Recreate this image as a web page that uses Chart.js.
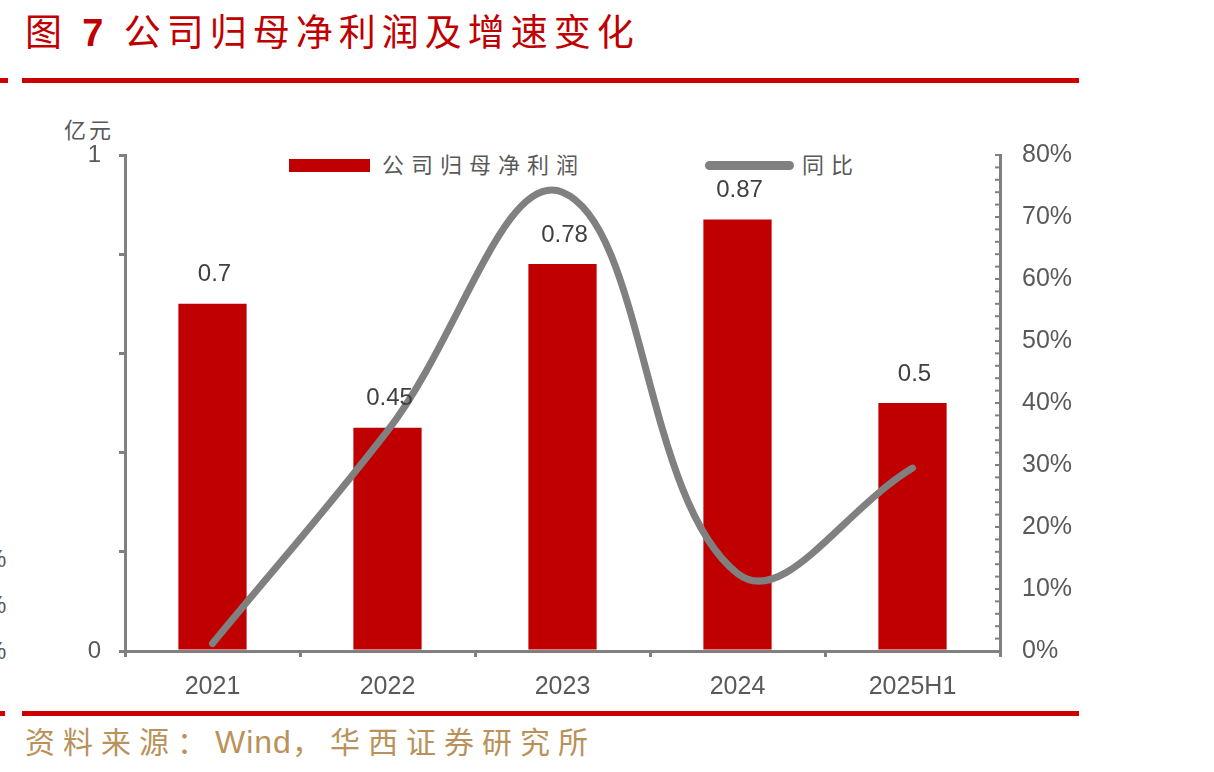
<!DOCTYPE html>
<html>
<head>
<meta charset="utf-8">
<script src="https://cdn.jsdelivr.net/npm/chart.js@4.4.1/dist/chart.umd.min.js"></script>
<style>
  body { margin: 0; background: #fff; width: 1214px; height: 772px; position: relative; overflow: hidden;
         font-family: "Liberation Sans", Arial, "Noto Sans CJK SC", sans-serif; }
  .abs { position: absolute; white-space: nowrap; }
  .title { left: 25px; top: 3px; font-size: 37px; color: #c00000; letter-spacing: 6px;
           font-family: "Noto Sans CJK SC", sans-serif; }
  .title b { font-family: "Liberation Sans", Arial, sans-serif; font-size: 38px; }
  .rule { background: #cc0000; height: 5px; }
  .src { left: 25px; top: 718px; font-size: 30px; color: #b8925a; letter-spacing: 8px;
         font-family: "Noto Sans CJK SC", sans-serif; }
  .src span { letter-spacing: 1px; font-family: "Liberation Sans", Arial, sans-serif; font-size: 32px; }
  .unit { left: 64px; top: 112px; font-size: 22px; color: #595959; letter-spacing: 3px;
          font-family: "Noto Sans CJK SC", sans-serif; }
  .leg { font-size: 22px; color: #595959; letter-spacing: 7px; font-family: "Noto Sans CJK SC", sans-serif; }
  .cut { font-size: 24px; color: #595959; left: -15px; }
  #wrap { position: absolute; left: 0; top: 100px; width: 1100px; height: 600px; }
</style>
</head>
<body>
<div class="abs title">图 <b>7</b> 公司归母净利润及增速变化</div>
<div class="abs rule" style="left:0;top:78px;width:8px;"></div>
<div class="abs rule" style="left:22px;top:78px;width:1057px;"></div>
<div class="abs rule" style="left:0;top:711px;width:5px;"></div>
<div class="abs rule" style="left:22px;top:711px;width:1057px;"></div>
<div class="abs src">资料来源：<span>Wind</span>，华西证券研究所</div>
<div class="abs unit">亿元</div>
<div class="abs cut" style="top:545px;">%</div>
<div class="abs cut" style="top:591px;">%</div>
<div class="abs cut" style="top:637px;">%</div>

<div class="abs" style="left:289px;top:159px;width:81px;height:13px;background:#c00000;"></div>
<div class="abs leg" style="left:382px;top:147px;">公司归母净利润</div>
<div class="abs" style="left:705px;top:161px;width:89px;height:9px;border-radius:5px;background:#808080;"></div>
<div class="abs leg" style="left:802px;top:147px;">同比</div>

<div id="wrap"><canvas id="chart" width="1100" height="600"></canvas></div>

<script>
const categories = ['2021', '2022', '2023', '2024', '2025H1'];
const netProfit = [0.7, 0.45, 0.78, 0.87, 0.5];   // 亿元
const yoyGrowth = [1.2, 35.5, 74, 12.5, 29.5];    // %

const axisGray = '#808080';
const labelFont = '"Liberation Sans", Arial, sans-serif';

// 柱子上方的数值
const barLabels = {
  id: 'barLabels',
  afterDatasetsDraw(chart) {
    const ctx = chart.ctx;
    const meta = chart.getDatasetMeta(1);
    ctx.save();
    ctx.font = '24px ' + labelFont;
    ctx.fillStyle = '#404040';
    ctx.textAlign = 'center';
    ctx.textBaseline = 'middle';
    meta.data.forEach((bar, i) => {
      ctx.fillText(String(netProfit[i]), bar.x + 2, bar.y - 29);
    });
    ctx.restore();
  }
};

// 右轴刻度朝内
const innerTicks = {
  id: 'innerTicks',
  afterDraw(chart) {
    const s = chart.scales.y1;
    const ctx = chart.ctx;
    ctx.save();
    ctx.strokeStyle = axisGray;
    ctx.lineWidth = 2;
    s.ticks.forEach(t => {
      const y = s.getPixelForValue(t.value);
      ctx.beginPath();
      ctx.moveTo(s.left - 1, y);
      ctx.lineTo(s.left - 5, y);
      ctx.stroke();
    });
    ctx.restore();
  }
};

const ctx = document.getElementById('chart');

new Chart(ctx, {
  data: {
    labels: categories,
    datasets: [
      {
        type: 'line',
        label: '同比',
        data: yoyGrowth,
        yAxisID: 'y1',
        borderColor: axisGray,
        borderWidth: 7,
        borderCapStyle: 'round',
        pointRadius: 0,
        tension: 0.4,
        order: 0
      },
      {
        type: 'bar',
        label: '公司归母净利润',
        data: netProfit,
        yAxisID: 'y',
        backgroundColor: '#c00000',
        barPercentage: 0.39,
        categoryPercentage: 1,
        order: 1
      }
    ]
  },
  options: {
    responsive: false,
    devicePixelRatio: 1,
    animation: false,
    layout: { padding: { top: 55, left: 0, right: 0, bottom: 0 } },
    scales: {
      x: {
        offset: true,
        border: { color: axisGray, width: 3 },
        grid: { offset: true, drawOnChartArea: false, color: axisGray, lineWidth: 3, tickLength: 6 },
        ticks: { color: '#595959', font: { size: 25, family: labelFont }, padding: 15 },
        afterFit(scale) { scale.height = 49; }
      },
      y: {
        position: 'left',
        min: 0,
        max: 1,
        ticks: {
          stepSize: 0.2,
          color: '#595959',
          font: { size: 24, family: labelFont },
          padding: 18,
          callback: v => (v === 0 || v === 1) ? v : ''
        },
        border: { color: axisGray, width: 3 },
        grid: { drawOnChartArea: false, color: axisGray, lineWidth: 3, tickLength: 6 },
        afterFit(scale) { scale.width = 125; }
      },
      y1: {
        position: 'right',
        min: 0,
        max: 80,
        ticks: {
          stepSize: 2,
          autoSkip: false,
          color: '#595959',
          font: { size: 25, family: labelFont },
          padding: 22,
          callback: v => v % 10 === 0 ? v + '%' : ''
        },
        border: { color: axisGray, width: 3 },
        grid: { display: true, drawOnChartArea: false, drawTicks: false },
        afterFit(scale) { scale.width = 100; }
      }
    },
    plugins: {
      legend: { display: false },
      tooltip: { enabled: false }
    }
  },
  plugins: [barLabels, innerTicks]
});
</script>
</body>
</html>
